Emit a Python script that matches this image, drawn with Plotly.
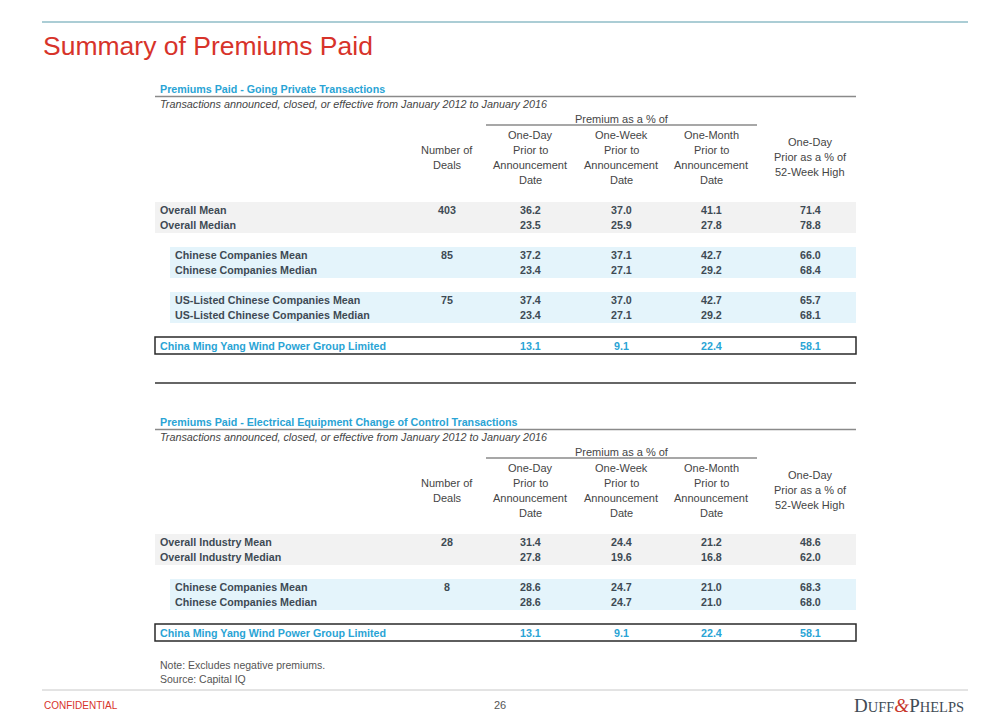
import plotly.graph_objects as go

# ---------------- data ----------------
page_title = "Summary of Premiums Paid"
period_note = "Transactions announced, closed, or effective from January 2012 to January 2016"
group_header = "Premium as a % of"
deals_header = ["Number of", "Deals"]
period_headers = [
    ["One-Day", "Prior to", "Announcement", "Date"],
    ["One-Week", "Prior to", "Announcement", "Date"],
    ["One-Month", "Prior to", "Announcement", "Date"],
]
high_header = ["One-Day", "Prior as a % of", "52-Week High"]

s1_title = "Premiums Paid - Going Private Transactions"
s1_labels = ["Overall Mean", "Overall Median",
             "Chinese Companies Mean", "Chinese Companies Median",
             "US-Listed Chinese Companies Mean", "US-Listed Chinese Companies Median"]
s1_deals = ["403", "", "85", "", "75", ""]
s1_one_day = [36.2, 23.5, 37.2, 23.4, 37.4, 23.4]
s1_one_week = [37.0, 25.9, 37.1, 27.1, 37.0, 27.1]
s1_one_month = [41.1, 27.8, 42.7, 29.2, 42.7, 29.2]
s1_52wk = [71.4, 78.8, 66.0, 68.4, 65.7, 68.1]

s2_title = "Premiums Paid - Electrical Equipment Change of Control Transactions"
s2_labels = ["Overall Industry Mean", "Overall Industry Median",
             "Chinese Companies Mean", "Chinese Companies Median"]
s2_deals = ["28", "", "8", ""]
s2_one_day = [31.4, 27.8, 28.6, 28.6]
s2_one_week = [24.4, 19.6, 24.7, 24.7]
s2_one_month = [21.2, 16.8, 21.0, 21.0]
s2_52wk = [48.6, 62.0, 68.3, 68.0]

target_label = "China Ming Yang Wind Power Group Limited"
target_values = [13.1, 9.1, 22.4, 58.1]

notes = ["Note: Excludes negative premiums.", "Source: Capital IQ"]
footer_left = "CONFIDENTIAL"
page_number = "26"

# ---------------- style ----------------
FONT = "Liberation Sans, Arial, sans-serif"
RED = "#d7332a"
BLUE = "#2aa4d5"
TXT = "#3e4a54"
HDR = "#454545"
GRAY_BAND = "#f2f2f2"
BLUE_BAND = "#e4f4fb"
BOLD_SIZE = 10.7

X_L, X_R = 155, 856
X_DEALS = 447
X_COLS = [530, 621, 711, 810]

fig = go.Figure()
shapes = []
ann = []


def text(x, y, s, size=11, color=HDR, anchor="center", bold=False, italic=False, family=FONT):
    if bold:
        s = "<b>" + s + "</b>"
    if italic:
        s = "<i>" + s + "</i>"
    ann.append(dict(x=x, y=y, xref="x", yref="y", text=s, showarrow=False,
                    xanchor=anchor, yanchor="middle",
                    font=dict(family=family, size=size, color=color)))


def line(x0, x1, y, color, width):
    shapes.append(dict(type="line", xref="x", yref="y", x0=x0, x1=x1, y0=y, y1=y,
                       line=dict(color=color, width=width)))


def rect(x0, x1, y0, y1, fill, border=None):
    shapes.append(dict(type="rect", xref="x", yref="y", x0=x0, x1=x1, y0=y0, y1=y1,
                       fillcolor=fill, layer="below",
                       line=dict(color=border if border else fill, width=1.5 if border else 0)))


def section(T, title, labels, deals, c1, c2, c3, c4, band_tops, box_top, bottom_line=None):
    text(158, T, title, size=BOLD_SIZE, color=BLUE, anchor="left", bold=True)
    line(X_L, X_R, T + 7.5, "#8a8a8a", 1.5)
    text(158, T + 15, period_note, size=10.8, color=HDR, anchor="left", italic=True)
    text((486 + 757) / 2, T + 30, group_header, size=11, color=HDR)
    line(486, 757, T + 36, "#8a8a8a", 1.5)
    for k, s in enumerate(deals_header):
        text(X_DEALS, T + 61 + 15 * k, s)
    for j, hdr in enumerate(period_headers):
        for k, s in enumerate(hdr):
            text(X_COLS[j], T + 46 + 15 * k, s)
    for k, s in enumerate(high_header):
        text(X_COLS[3], T + 53 + 15 * k, s)
    cols = [c1, c2, c3, c4]
    for g, top in enumerate(band_tops):
        x0 = X_L if g == 0 else 170
        rect(x0, X_R, top, top + 31, GRAY_BAND if g == 0 else BLUE_BAND)
        for r in range(2):
            i = 2 * g + r
            y = top + 8 + 15 * r
            text(158 if g == 0 else 173, y, labels[i], size=BOLD_SIZE, color=TXT, anchor="left", bold=True)
            if deals[i]:
                text(X_DEALS, y, deals[i], size=BOLD_SIZE, color=TXT, bold=True)
            for j in range(4):
                text(X_COLS[j], y, f"{cols[j][i]:.1f}", size=BOLD_SIZE, color=TXT, bold=True)
    rect(X_L, X_R, box_top, box_top + 17, "rgba(0,0,0,0)", border="#2a2a2a")
    text(158, box_top + 9, target_label, size=BOLD_SIZE, color=BLUE, anchor="left", bold=True)
    for j in range(4):
        text(X_COLS[j], box_top + 9, f"{target_values[j]:.1f}", size=BOLD_SIZE, color=BLUE, bold=True)
    if bottom_line:
        line(X_L, X_R, bottom_line, "#333333", 1.5)


# page header
line(42, 968, 22, "#abcdd5", 2)
text(41, 46, page_title, size=26.5, color=RED, anchor="left")

section(89, s1_title, s1_labels, s1_deals, s1_one_day, s1_one_week, s1_one_month, s1_52wk,
        [202, 247, 292], 337, bottom_line=383)
section(422, s2_title, s2_labels, s2_deals, s2_one_day, s2_one_week, s2_one_month, s2_52wk,
        [534, 579], 624)

for k, s in enumerate(notes):
    text(158, 665 + 14 * k, s, size=10.5, color="#555555", anchor="left")

# footer
line(42, 968, 690, "#c8c8c8", 1)
text(42, 705, footer_left, size=10, color=RED, anchor="left")
text(500, 705, page_number, size=11, color="#555555")
logo = ("<span style='font-size:19px'>D</span>UFF"
        "<span style='color:#c8372d;font-style:italic;font-size:19px'>&amp;</span>"
        "<span style='font-size:19px'>P</span>HELPS")
text(966, 705, logo, size=14.5, color="#3f4b55", anchor="right",
     family="Liberation Serif, Times New Roman, serif")

fig.update_layout(
    width=1008, height=720,
    margin=dict(l=0, r=0, t=0, b=0),
    paper_bgcolor="white", plot_bgcolor="white",
    xaxis=dict(range=[0, 1008], visible=False, fixedrange=True),
    yaxis=dict(range=[720, 0], visible=False, fixedrange=True),
    shapes=shapes, annotations=ann, showlegend=False,
)

fig.write_html("out.html", config={"displayModeBar": False},
               post_script="document.body.style.margin='0px';")
